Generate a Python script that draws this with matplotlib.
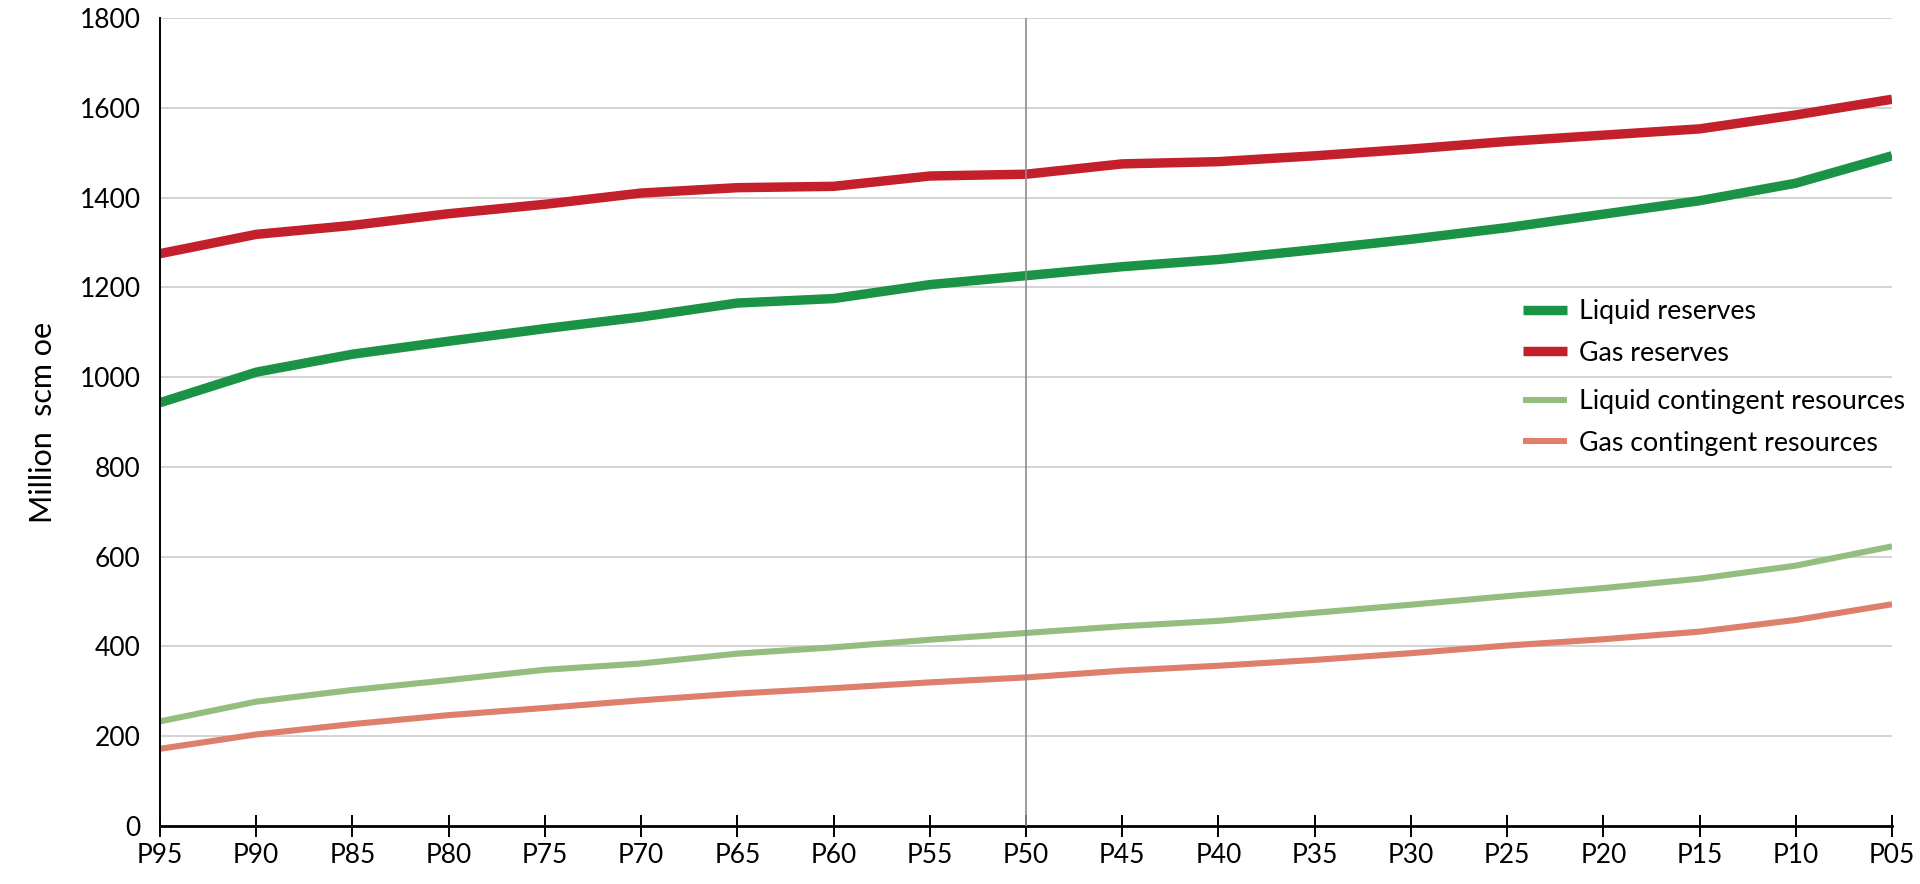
import matplotlib
matplotlib.use('Agg')
import matplotlib.pyplot as plt
import numpy as np

plt.rcParams['font.family'] = ['Lato', 'DejaVu Sans']

# percentiles along x
percentiles = ['P95', 'P90', 'P85', 'P80', 'P75', 'P70', 'P65', 'P60', 'P55', 'P50',
               'P45', 'P40', 'P35', 'P30', 'P25', 'P20', 'P15', 'P10', 'P05']

# million scm oe
liquid_reserves = [943, 1011, 1051, 1080, 1108, 1134, 1165, 1175, 1206, 1226,
                   1246, 1262, 1284, 1307, 1333, 1363, 1393, 1432, 1493]
gas_reserves = [1275, 1318, 1338, 1364, 1385, 1410, 1422, 1425, 1448, 1452,
                1475, 1480, 1493, 1508, 1525, 1539, 1553, 1584, 1619]
liquid_contingent = [233, 277, 303, 325, 348, 362, 384, 398, 415, 430,
                     445, 457, 475, 493, 512, 530, 551, 580, 623]
gas_contingent = [172, 204, 227, 247, 263, 280, 295, 307, 320, 331,
                  346, 357, 370, 385, 402, 416, 433, 459, 494]

y_ticks = [0, 200, 400, 600, 800, 1000, 1200, 1400, 1600, 1800]


def main():
    fig = plt.figure(figsize=(19.2, 8.84), dpi=100)
    ax = fig.add_axes([160 / 1920, 1 - 826 / 884, 1732 / 1920, 808 / 884])

    x = np.arange(len(percentiles))
    l1, = ax.plot(x, liquid_reserves, color='#1b9347', lw=6.8, solid_capstyle='butt',
                  label='Liquid reserves')
    l2, = ax.plot(x, gas_reserves, color='#c3202b', lw=6.8, solid_capstyle='butt',
                  label='Gas reserves')
    l3, = ax.plot(x, liquid_contingent, color='#94bd80', lw=4.4, solid_capstyle='butt',
                  label='Liquid contingent resources')
    l4, = ax.plot(x, gas_contingent, color='#dd7f6b', lw=4.4, solid_capstyle='butt',
                  label='Gas contingent resources')

    # median marker line
    ax.axvline(percentiles.index('P50'), color='#8c8c8c', lw=1.2, zorder=3)

    ax.set_xlim(0, len(percentiles) - 1)
    ax.set_ylim(0, 1800)
    ax.set_xticks(x)
    ax.set_xticklabels(percentiles, fontsize=19)
    ax.set_yticks(y_ticks)
    ax.set_yticklabels([str(v) for v in y_ticks], fontsize=19)
    ax.tick_params(axis='y', length=0, pad=14)
    ax.tick_params(axis='x', direction='inout', length=16, width=1.4, pad=4)

    ax.yaxis.grid(True, color='#c8c8c8', lw=1.1)
    ax.set_axisbelow(True)
    for side in ['top', 'right']:
        ax.spines[side].set_visible(False)
    ax.spines['left'].set_linewidth(1.4)
    ax.spines['bottom'].set_linewidth(2.0)

    ax.set_ylabel('Million  scm oe', fontsize=22, labelpad=16)

    leg1 = ax.legend(handles=[l1, l2], loc='center left', bbox_to_anchor=(0.787, 0.6108),
                     frameon=False, fontsize=19.3, handlelength=1.65, handletextpad=0.45,
                     labelspacing=0.6, borderpad=0, borderaxespad=0)
    ax.add_artist(leg1)
    ax.legend(handles=[l3, l4], loc='center left', bbox_to_anchor=(0.787, 0.4994),
              frameon=False, fontsize=19.3, handlelength=1.65, handletextpad=0.45,
              labelspacing=0.6, borderpad=0, borderaxespad=0)

    fig.savefig('out.png', dpi=100)


if __name__ == '__main__':
    main()
